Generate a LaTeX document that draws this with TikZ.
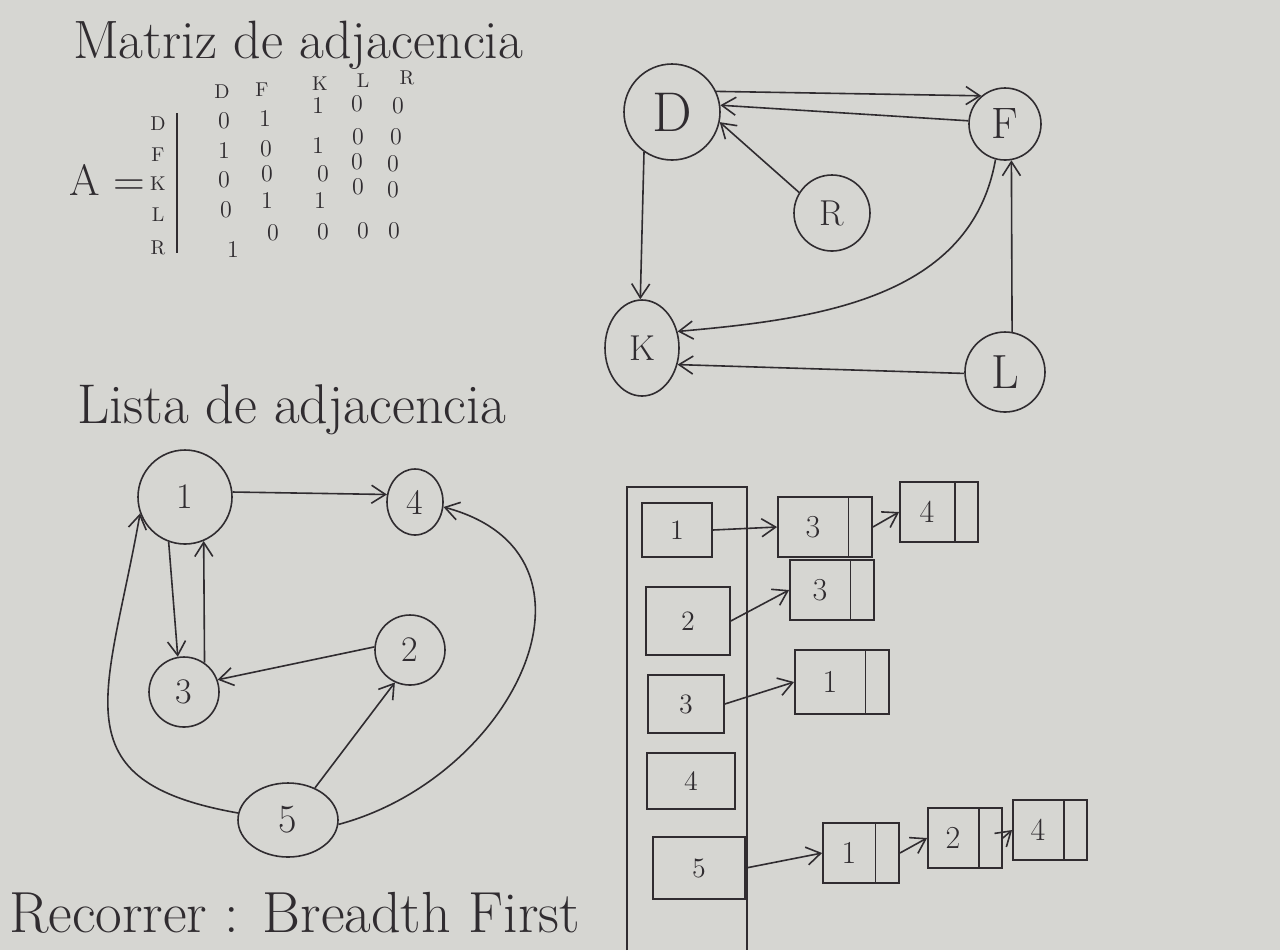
\documentclass[tikz,border=0pt]{standalone}
\usetikzlibrary{positioning}
\usetikzlibrary{shapes,shapes.multipart}
\usetikzlibrary{arrows.meta}
\usepackage{xcolor}
\definecolor{paper}{RGB}{214,214,210}
\definecolor{ink}{RGB}{48,44,48}

\begin{document}
\begin{tikzpicture}[x=0.5pt,y=0.5pt,
    f/.style={-{Straight Barb[length=7pt,width=9pt]},line width=0.8pt,ink},%
    s/.style={draw=ink,circle,line width=0.8pt,text=ink,inner sep=0pt},%
    e/.style={draw=ink,ellipse,line width=0.8pt,text=ink,inner sep=0pt},%
    idx/.style={draw=ink,line width=0.8pt,text=ink,minimum width=42pt,minimum height=30pt,font=\fontsize{14}{16}\selectfont},%
    elem/.style={draw=ink,line width=0.8pt,text=ink,rectangle split,rectangle split horizontal,rectangle split parts=2,minimum height=30pt,inner xsep=3.5pt,font=\fontsize{16}{18}\selectfont},%
    m/.style={text=ink,inner sep=0pt,font=\fontsize{12}{14}\selectfont},%
    h/.style={text=ink,inner sep=0pt,font=\fontsize{10}{11}\selectfont}]
    \fill[paper] (0,0) rectangle (1280,-950);
    \useasboundingbox (0,0) rectangle (1280,-950);

    % matriz
    \node[text=ink,anchor=west,font=\fontsize{27}{30}\selectfont] (tmat) at (66,-45) {Matriz de adjacencia};
    \node[text=ink,anchor=east,font=\fontsize{22}{24}\selectfont] (A) at (152,-180) {A =};
    \foreach \l/\x/\y in {D/222/-92,F/262/-90,K/320/-84,L/363/-81,R/407/-78}
        \node[h] (c\l) at (\x,\y) {\l};
    \foreach \l/\y in {D/-124,F/-155,K/-184,L/-215,R/-248}
        \node[h] (r\l) at (158,\y) {\l};
    \draw[ink,line width=0.8pt] (177,-113) -- (177,-253);
    \foreach \v/\x/\y [count=\i] in {0/224/-121,1/224/-151,0/224/-180,0/226/-210,1/233/-250,
        1/265/-119,0/266/-149,0/267/-174,1/267/-201,0/273/-233,
        1/318/-106,1/318/-146,0/323/-174,1/320/-201,0/323/-232,
        0/357/-104,0/358/-137,0/357/-162,0/358/-187,0/363/-231,
        0/398/-106,0/396/-137,0/393/-164,0/393/-190,0/394/-231}
        \node[m] (m\i) at (\x,\y) {\v};

    % grafo D F K L R
    \node[s,minimum size=48pt,font=\fontsize{28}{30}\selectfont] (D) at (672,-112) {D};
    \node[s,minimum size=36pt,font=\fontsize{22}{24}\selectfont] (F) at (1005,-124) {F};
    \node[s,minimum size=38pt,font=\fontsize{18}{20}\selectfont] (R) at (832,-213) {R};
    \node[e,minimum width=37pt,minimum height=48pt,font=\fontsize{18}{20}\selectfont] (K) at (642,-348) {K};
    \node[s,minimum size=40pt,font=\fontsize{24}{26}\selectfont] (L) at (1005,-372) {L};
    \draw[f] (D.25) -- (F.130);
    \draw[f] (F.175) -- (D.8);
    \draw[f] (R.148) -- (D.-12);
    \draw[f] (D.235) -- (K.92);
    \draw[f] (F.255) to[out=-100,in=5] (K.25);
    \draw[f] (L.182) -- (K.-25);
    \draw[f] (L.80) -- (F.-80);

    % lista
    \node[text=ink,anchor=west,font=\fontsize{28}{32}\selectfont] (tlist) at (70,-410) {Lista de adjacencia};
    \node[s,minimum size=47pt,font=\fontsize{18}{20}\selectfont] (n1) at (185,-497) {1};
    \node[e,minimum width=28pt,minimum height=33pt,font=\fontsize{18}{20}\selectfont] (n4) at (415,-502) {4};
    \node[s,minimum size=35pt,font=\fontsize{18}{20}\selectfont] (n2) at (410,-650) {2};
    \node[s,minimum size=35pt,font=\fontsize{18}{20}\selectfont] (n3) at (184,-692) {3};
    \node[e,minimum width=50pt,minimum height=37pt,font=\fontsize{20}{22}\selectfont] (n5) at (288,-820) {5};
    \draw[f] (n1.6) -- (n4.165);
    \draw[f] (n1.250) -- (n3.100);
    \draw[f] (n3.55) -- (n1.293);
    \draw[f] (n2.175) -- (n3.20);
    \draw[f] (n5.50) -- (n2.245);
    \draw[f] (n5.172) to[out=170,in=-100,looseness=1.5] (n1.200);
    \draw[f] (n5.-5) to[out=15,in=-15,looseness=1.4] (n4.-10);

    % tabla con listas
    \draw[ink,line width=0.8pt] (627,-950) -- (627,-487) -- (747,-487) -- (747,-950);
    \node[idx,minimum width=35pt,minimum height=27pt] (i1) at (677,-530) {1};
    \node[idx,minimum height=34pt] (i2) at (688,-621) {2};
    \node[idx,minimum width=38pt,minimum height=29pt] (i3) at (686,-704) {3};
    \node[idx,minimum width=44pt,minimum height=28pt] (i4) at (691,-781) {4};
    \node[idx,minimum width=46pt,minimum height=31pt] (i5) at (699,-868) {5};
    \node[elem] (a13) at (825,-527) {\makebox[28pt]{3}\nodepart{two}};
    \node[elem] (a14) at (939,-512) {\makebox[20pt]{4}\nodepart{two}};
    \node[elem] (a23) at (832,-590) {\makebox[23pt]{3}\nodepart{two}};
    \node[elem,minimum height=32pt] (a31) at (842,-682) {\makebox[28pt]{1}\nodepart{two}};
    \node[elem] (a51) at (861,-853) {\makebox[19pt]{1}\nodepart{two}};
    \node[elem] (a52) at (965,-838) {\makebox[18pt]{2}\nodepart{two}};
    \node[elem] (a54) at (1050,-830) {\makebox[18pt]{4}\nodepart{two}};
    \draw[f] (i1.east) -- (a13.west);
    \draw[f] (a13.east) -- (a14.west);
    \draw[f] (i2.east) -- (a23.west);
    \draw[f] (i3.east) -- (a31.west);
    \draw[f] (i5.east) -- (a51.west);
    \draw[f] (a51.east) -- (a52.west);
    \draw[f] (a52.east) -- (a54.west);

    \node[text=ink,anchor=west,font=\fontsize{29}{34}\selectfont] (trec) at (2,-913) {Recorrer : Breadth First};
\end{tikzpicture}
\end{document}
